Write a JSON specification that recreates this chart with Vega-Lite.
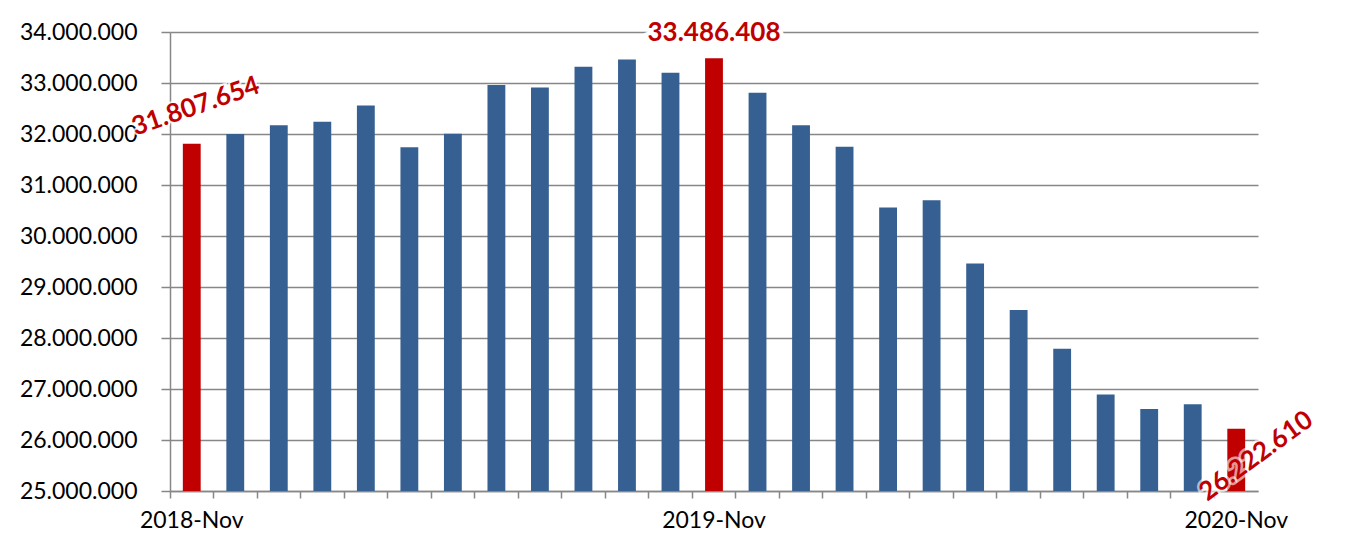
{
  "$schema": "https://vega.github.io/schema/vega-lite/v6.json",
  "width": 1088,
  "height": 459,
  "autosize": {"type": "none"},
  "padding": {"left": 170, "top": 32, "right": 110, "bottom": 61},
  "background": "white",
  "config": {
    "view": {"stroke": null},
    "locale": {"number": {"decimal": ",", "thousands": ".", "grouping": [3], "currency": ["", " €"]}},
    "axis": {"labelFont": "Lato", "labelFontSize": 23, "labelColor": "#000000", "domainColor": "#878787", "tickColor": "#878787", "domainWidth": 1.5, "tickWidth": 1.5, "gridColor": "#878787", "gridWidth": 1.5}
  },
  "data": {
    "values": [
      {"month": "2018-Nov", "value": 31807654, "hl": "yes"},
      {"month": "2018-Dec", "value": 31998000, "hl": "no"},
      {"month": "2019-Jan", "value": 32170000, "hl": "no"},
      {"month": "2019-Feb", "value": 32240000, "hl": "no"},
      {"month": "2019-Mar", "value": 32560000, "hl": "no"},
      {"month": "2019-Apr", "value": 31740000, "hl": "no"},
      {"month": "2019-May", "value": 32005000, "hl": "no"},
      {"month": "2019-Jun", "value": 32960000, "hl": "no"},
      {"month": "2019-Jul", "value": 32910000, "hl": "no"},
      {"month": "2019-Aug", "value": 33320000, "hl": "no"},
      {"month": "2019-Sep", "value": 33460000, "hl": "no"},
      {"month": "2019-Oct", "value": 33200000, "hl": "no"},
      {"month": "2019-Nov", "value": 33486408, "hl": "yes"},
      {"month": "2019-Dec", "value": 32810000, "hl": "no"},
      {"month": "2020-Jan", "value": 32170000, "hl": "no"},
      {"month": "2020-Feb", "value": 31750000, "hl": "no"},
      {"month": "2020-Mar", "value": 30560000, "hl": "no"},
      {"month": "2020-Apr", "value": 30700000, "hl": "no"},
      {"month": "2020-May", "value": 29460000, "hl": "no"},
      {"month": "2020-Jun", "value": 28550000, "hl": "no"},
      {"month": "2020-Jul", "value": 27790000, "hl": "no"},
      {"month": "2020-Aug", "value": 26890000, "hl": "no"},
      {"month": "2020-Sep", "value": 26610000, "hl": "no"},
      {"month": "2020-Oct", "value": 26700000, "hl": "no"},
      {"month": "2020-Nov", "value": 26222610, "hl": "yes"}
    ]
  },
  "encoding": {
    "x": {
      "field": "month", "type": "nominal", "sort": null,
      "scale": {"type": "band", "paddingInner": 0, "paddingOuter": 0},
      "axis": {"title": null, "labelAngle": 0, "bandPosition": 0, "tickSize": 7, "labelPadding": 11, "labelOverlap": false,
               "labelExpr": "slice(datum.value, 5) == 'Nov' ? datum.value : ''"}
    },
    "y": {
      "field": "value", "type": "quantitative",
      "scale": {"domain": [25000000, 34000000], "zero": false, "nice": false},
      "axis": {"title": null, "values": [25000000, 26000000, 27000000, 28000000, 29000000, 30000000, 31000000, 32000000, 33000000, 34000000], "format": ",d", "tickSize": 9, "labelPadding": 24, "grid": true}
    }
  },
  "layer": [
    {
      "mark": {"type": "bar", "width": {"band": 0.41}},
      "encoding": {
        "y2": {"datum": 25000000},
        "color": {"field": "hl", "type": "nominal", "scale": {"domain": ["yes", "no"], "range": ["#C00000", "#376092"]}, "legend": null}
      }
    },
    {
      "transform": [{"filter": "datum.month == '2018-Nov'"}],
      "mark": {"type": "text", "font": "Lato", "fontWeight": "bold", "fontSize": 26, "angle": -19, "dx": 16, "dy": -34, "align": "center", "baseline": "middle", "stroke": "white", "strokeWidth": 4, "fill": "white", "strokeOpacity": 0.8},
      "encoding": {"text": {"field": "value", "type": "quantitative", "format": ",d"}}
    },
    {
      "transform": [{"filter": "datum.month == '2018-Nov'"}],
      "mark": {"type": "text", "font": "Lato", "fontWeight": "bold", "fontSize": 26, "angle": -19, "dx": 16, "dy": -34, "align": "center", "baseline": "middle", "color": "#C00000"},
      "encoding": {"text": {"field": "value", "type": "quantitative", "format": ",d"}}
    },
    {
      "transform": [{"filter": "datum.month == '2019-Nov'"}],
      "mark": {"type": "text", "font": "Lato", "fontWeight": "bold", "fontSize": 26, "dy": -25, "align": "center", "baseline": "middle", "stroke": "white", "strokeWidth": 8, "fill": "white"},
      "encoding": {"text": {"field": "value", "type": "quantitative", "format": ",d"}}
    },
    {
      "transform": [{"filter": "datum.month == '2019-Nov'"}],
      "mark": {"type": "text", "font": "Lato", "fontWeight": "bold", "fontSize": 26, "dy": -25, "align": "center", "baseline": "middle", "color": "#C00000"},
      "encoding": {"text": {"field": "value", "type": "quantitative", "format": ",d"}}
    },
    {
      "transform": [{"filter": "datum.month == '2020-Nov'"}],
      "mark": {"type": "text", "font": "Lato", "fontWeight": "bold", "fontSize": 26, "angle": -36, "dx": 0, "dy": 34, "align": "center", "baseline": "middle", "stroke": "white", "strokeWidth": 5, "fill": "white", "strokeOpacity": 0.6, "fillOpacity": 0.6},
      "encoding": {"text": {"field": "value", "type": "quantitative", "format": ",d"}}
    },
    {
      "transform": [{"filter": "datum.month == '2020-Nov'"}],
      "mark": {"type": "text", "font": "Lato", "fontWeight": "bold", "fontSize": 26, "angle": -36, "dx": 0, "dy": 34, "align": "center", "baseline": "middle", "color": "#C00000"},
      "encoding": {"text": {"field": "value", "type": "quantitative", "format": ",d"}}
    }
  ]
}
